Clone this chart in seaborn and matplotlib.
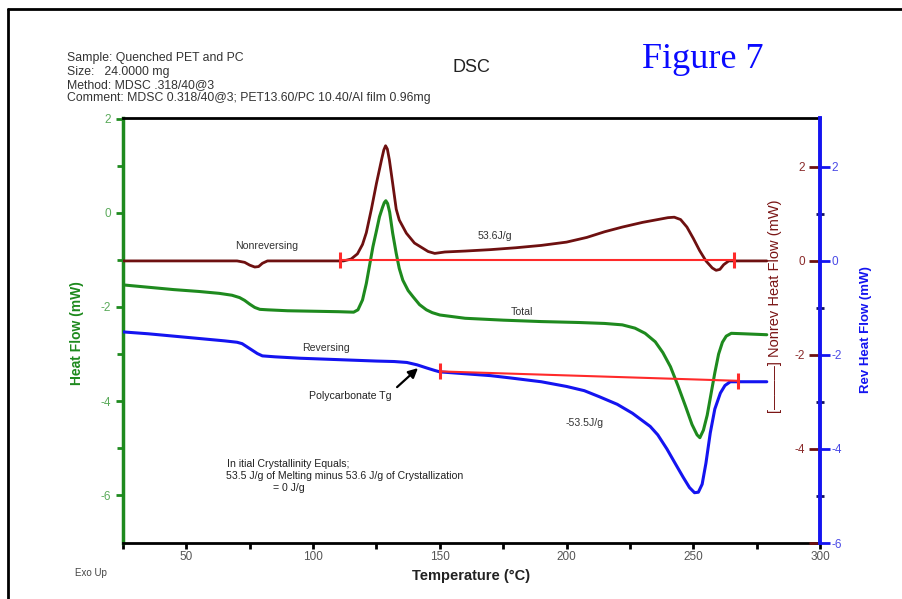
import matplotlib
matplotlib.use("Agg")
import matplotlib.pyplot as plt
import seaborn as sns
from matplotlib.lines import Line2D

# Total heat flow (left axis, mW)
total_t = [25, 35, 45, 55, 63, 68, 71, 73, 75, 77, 79, 82, 90, 100, 110, 116,
           117.7, 119.5, 121, 122.5, 123.6, 125, 126.2, 127.4, 128.1, 128.7, 129.4, 130.2,
           131.4, 132.8, 134, 135.4, 137.5, 139.4, 142, 144.7, 147, 150, 160,
           175, 190, 205, 215, 222, 227, 231, 235, 238, 241, 244, 247, 249.5,
           251.5, 252.6, 254, 255.5, 257, 258.5, 260, 261.5, 263, 265, 270, 279]
total_hf = [-1.53, -1.58, -1.63, -1.67, -1.71, -1.75, -1.80, -1.86, -1.94, -2.01,
            -2.05, -2.06, -2.08, -2.09, -2.10, -2.11,
            -2.06, -1.85, -1.50, -1.05, -0.72, -0.38, -0.08, 0.12, 0.22, 0.26, 0.20, 0.02,
            -0.43, -0.86, -1.18, -1.43, -1.65, -1.78, -1.95, -2.06, -2.12, -2.17, -2.24,
            -2.28, -2.31, -2.33, -2.35, -2.38, -2.45, -2.56, -2.74, -2.97, -3.27,
            -3.68, -4.12, -4.50,
            -4.72, -4.78, -4.62, -4.30, -3.85, -3.40, -3.00, -2.75, -2.62, -2.56, -2.57, -2.59]

# Nonreversing heat flow (right axis, mW)
nonrev_t = [25, 50, 70, 73, 75, 77, 78.5, 80, 82, 100, 112, 115, 117.5, 119.5,
            121, 123, 125, 127, 127.9, 128.6, 129.3, 130.1, 131.4, 132.8, 134, 136.8,
            140, 145.4, 148, 152, 160, 170, 180, 190, 200, 208, 215, 222, 230, 236,
            240, 242.5, 245, 247.5, 250, 252.5, 255, 257.5, 259, 260.5, 262, 264, 270, 279]
nonrev_hf = [0.0, 0.0, 0.0, -0.03, -0.09, -0.13, -0.12, -0.05, 0.0, 0.0, 0.0, 0.04,
             0.15, 0.35, 0.6, 1.1, 1.65, 2.15, 2.36, 2.45, 2.38, 2.15, 1.65, 1.1, 0.87,
             0.59, 0.38, 0.2, 0.16, 0.19, 0.21, 0.24, 0.28, 0.33, 0.40, 0.50, 0.62,
             0.72, 0.82, 0.88, 0.92, 0.93, 0.88, 0.72, 0.48, 0.22, 0.0, -0.15, -0.20,
             -0.18, -0.08, 0.0, 0.0, 0.0]

# Reversing heat flow (right axis, mW)
rev_t = [25, 35, 45, 55, 65, 70, 72, 74, 76, 78, 80, 85, 95, 105, 115, 125, 132,
         137, 141, 145, 148, 150, 160, 170, 178, 190, 200, 207, 213, 220, 226, 230,
         233, 236, 239.6, 243, 246, 248.5, 250.5, 252, 253.5, 255, 256.7, 258.5,
         260.7, 262.5, 264.6, 270, 279]
rev_hf = [-1.51, -1.55, -1.60, -1.65, -1.70, -1.73, -1.76, -1.83, -1.90, -1.97,
          -2.02, -2.04, -2.07, -2.09, -2.11, -2.13, -2.14, -2.16, -2.21, -2.28,
          -2.33, -2.36, -2.40, -2.44, -2.49, -2.57, -2.67, -2.76, -2.89, -3.05,
          -3.24, -3.40, -3.52, -3.70, -4.00, -4.32, -4.60, -4.82, -4.93, -4.92,
          -4.75, -4.30, -3.66, -3.15, -2.81, -2.65, -2.57, -2.57, -2.57]

# integration baselines
nonrev_base_t = [110.5, 266]
nonrev_base_hf = [0.02, 0.02]
rev_base_t = [150, 267.6]
rev_base_hf = [-2.35, -2.55]

GREEN = "#1e8a1e"
DARKRED = "#6e1010"
RED = "#ff2a2a"
BLUE = "#1414f0"

sns.set_style("ticks")
plt.rcParams['font.family'] = ['Liberation Sans', 'DejaVu Sans']
plt.rcParams['axes.unicode_minus'] = False

W, H = 902, 599
fig = plt.figure(figsize=(W / 100, H / 100), dpi=100)


def fx(px):
    return px / W


def fy(py):
    return 1 - py / H


ax = fig.add_axes([fx(123), fy(543), (820 - 123) / W, (543 - 118) / H])
ax2 = ax.twinx()
ax3 = ax.twinx()

sns.lineplot(x=total_t, y=total_hf, ax=ax, color=GREEN, linewidth=2.2, legend=False)
sns.lineplot(x=nonrev_t, y=nonrev_hf, ax=ax2, color=DARKRED, linewidth=2, legend=False)
ax2.plot(nonrev_base_t, nonrev_base_hf, color=RED, lw=1.5, marker="|",
         markersize=11, markeredgewidth=2.2)
sns.lineplot(x=rev_t, y=rev_hf, ax=ax3, color=BLUE, linewidth=2.2, legend=False)
ax3.plot(rev_base_t, rev_base_hf, color=RED, lw=1.5, marker="|",
         markersize=11, markeredgewidth=2.2)

ax.set_xlim(25, 300)
ax.set_ylim(-7.02, 2.02)
ax2.set_ylim(-6.0, 3.04)
ax3.set_ylim(-6.0, 3.04)

# left axis (green)
ax.set_yticks([-6, -4, -2, 0, 2])
ax.set_yticks([-5, -3, -1, 1], minor=True)
ax.set_xticks([50, 100, 150, 200, 250, 300])
ax.set_xticks([25, 75, 125, 175, 225, 275], minor=True)
ax.tick_params(axis="y", which="both", left=True, colors=GREEN, labelcolor="#5aaa5a",
               direction="out", width=2, labelsize=8.5)
ax.tick_params(axis="y", which="major", length=5)
ax.tick_params(axis="y", which="minor", length=4)
ax.tick_params(axis="x", which="both", bottom=True, colors="black", labelcolor="#555555",
               direction="out", width=2, labelsize=8.5, length=4, pad=2)
ax.spines["left"].set_color(GREEN)
ax.spines["left"].set_linewidth(2.5)
for s in ["top", "bottom"]:
    ax.spines[s].set_visible(True)
    ax.spines[s].set_color("black")
    ax.spines[s].set_linewidth(2)
ax.spines["right"].set_visible(False)
ax.set_xlabel("")
ax.set_ylabel("")

# nonrev axis: ticks and labels inside, left of the spine
for s in ax2.spines.values():
    s.set_visible(False)
ax2.set_yticks([-6, -4, -2, 0, 2])
ax2.set_yticklabels(["", "-4", "-2", "0", "2"])
ax2.tick_params(axis="y", which="major", right=True, direction="in", length=8, width=2,
                colors=DARKRED, labelcolor="#8a2a2a", labelsize=8.5, pad=-11)
ax2.tick_params(axis="y", which="minor", length=0)
for lab in ax2.get_yticklabels():
    lab.set_horizontalalignment("right")
ax2.set_ylabel("")

# rev axis (blue)
for s in ["top", "bottom", "left"]:
    ax3.spines[s].set_visible(False)
ax3.spines["right"].set_visible(True)
ax3.spines["right"].set_color(BLUE)
ax3.spines["right"].set_linewidth(2.8)
ax3.set_yticks([-6, -4, -2, 0, 2])
ax3.set_yticks([-5, -3, -1, 1], minor=True)
ax3.tick_params(axis="y", which="major", right=True, direction="out", length=7, width=2,
                colors=BLUE, labelcolor="#4a4ae6", labelsize=8.5, pad=1)
ax3.tick_params(axis="y", which="minor", right=True, direction="inout", length=6, width=2,
                colors="#101060")
ax3.set_ylabel("")

# curve annotations
small = 7.6
fig.text(fx(235), fy(246), "Nonreversing", fontsize=small, color="#333333", va="center")
fig.text(fx(478), fy(236), "53.6J/g", fontsize=small, color="#333333", va="center")
fig.text(fx(511), fy(312), "Total", fontsize=small, color="#333333", va="center")
fig.text(fx(302), fy(348), "Reversing", fontsize=small, color="#333333", va="center")
fig.text(fx(309), fy(396), "Polycarbonate Tg", fontsize=small, color="#222222", va="center")
fig.text(fx(566), fy(423), "-53.5J/g", fontsize=small, color="#333333", va="center")
ax3.annotate("", xy=(142.2, -2.24), xycoords="data",
             xytext=(395, H - 389), textcoords="figure pixels",
             arrowprops=dict(arrowstyle="-|>", color="black", lw=1.6, mutation_scale=14))
fig.text(fx(227), fy(464), "In itial Crystallinity Equals;", fontsize=small,
         color="#222222", va="center")
fig.text(fx(226), fy(476), "53.5 J/g of Melting minus 53.6 J/g of Crystallization",
         fontsize=small, color="#222222", va="center")
fig.text(fx(273), fy(488), "= 0 J/g", fontsize=small, color="#222222", va="center")

# axis titles
fig.text(fx(77), fy(333), "Heat Flow (mW)", rotation=90, color=GREEN, fontsize=10,
         fontweight="bold", ha="center", va="center")
fig.text(fx(775), fy(306), "[\u2014\u2014\u2014] Nonrev Heat Flow (mW)", rotation=90,
         color="#7a1515", fontsize=10.5, ha="center", va="center")
fig.text(fx(866), fy(330), "Rev Heat Flow (mW)", rotation=90, color=BLUE, fontsize=9.5,
         fontweight="bold", ha="center", va="center")
fig.text(fx(471), fy(576), "Temperature (\u00b0C)", fontsize=10.5, fontweight="bold",
         ha="center", va="center", color="#222222")
fig.text(fx(75), fy(573), "Exo Up", fontsize=7, color="#444444", va="center")

# header
hdr = ["Sample: Quenched PET and PC",
       "Size:   24.0000 mg",
       "Method: MDSC .318/40@3",
       "Comment: MDSC 0.318/40@3; PET13.60/PC 10.40/Al film 0.96mg"]
for i, line in enumerate(hdr):
    fig.text(fx(67), fy(61 + i * 13.5), line, fontsize=8.8, color="#333333",
             va="baseline")
fig.text(fx(471), fy(68), "DSC", fontsize=13, ha="center", va="center", color="#222222")
fig.text(fx(703), fy(60), "Figure 7", fontsize=26, color="#0a0aff", ha="center",
         va="center", family=["Liberation Serif", "DejaVu Serif"])

# page frame
fig.add_artist(Line2D([fx(8), 1], [fy(9), fy(9)], color="black", lw=2,
                      transform=fig.transFigure))
fig.add_artist(Line2D([fx(8), fx(8)], [fy(9), 0], color="black", lw=2,
                      transform=fig.transFigure))

fig.savefig("out.png", dpi=100)
